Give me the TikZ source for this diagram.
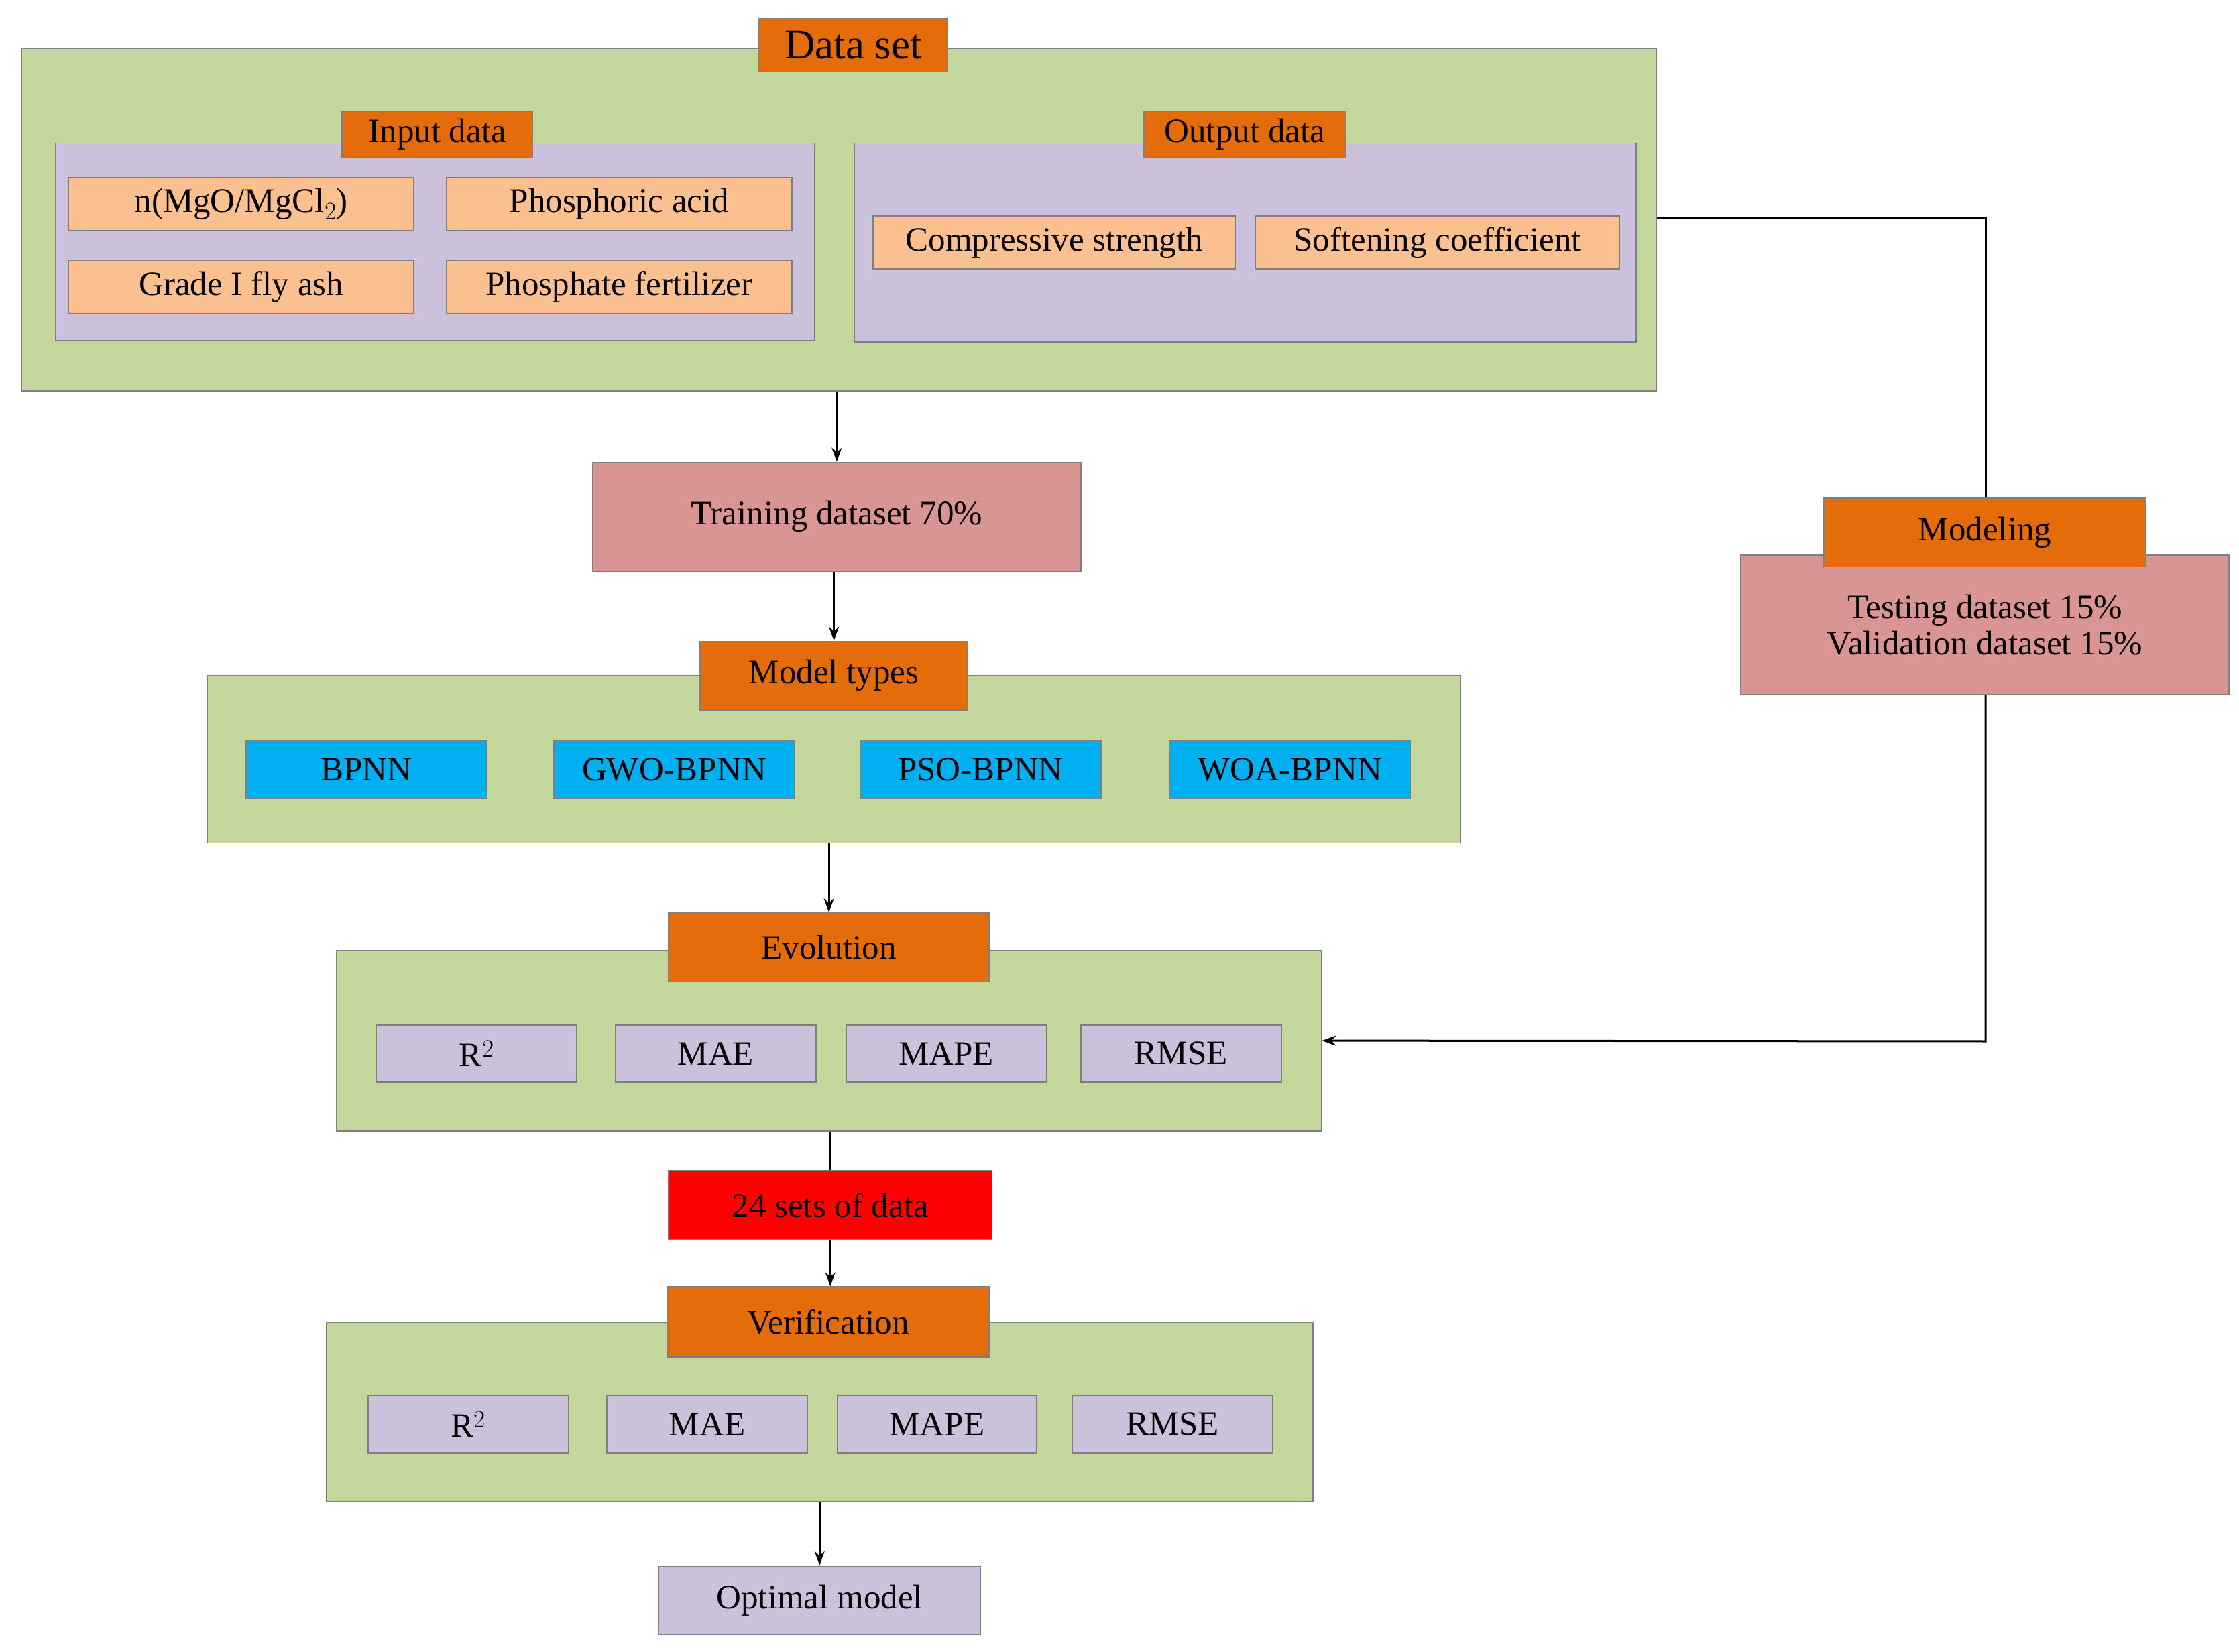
\documentclass[tikz,border=0pt]{standalone}
\usepackage{fontspec}
\setmainfont{Liberation Serif}
\usetikzlibrary{arrows.meta}
\definecolor{gr}{HTML}{C3D69B}
\definecolor{pu}{HTML}{CCC1DA}
\definecolor{og}{HTML}{E46C0A}
\definecolor{pe}{HTML}{FAC090}
\definecolor{pk}{HTML}{D99594}
\definecolor{bl}{HTML}{00B0F0}
\definecolor{bd}{HTML}{7F7F7F}
\newcommand\bx[7]{\node[#1, minimum width={(#5-#3)*0.05cm}, minimum height={(#6-#4)*0.05cm}, inner sep=0pt] (#2) at ({(#3+#5)/2},{(#4+#6)/2}) {#7};}
\tikzset{
 base/.style={draw=bd, line width=1.2pt, font=\fontsize{34}{40}\selectfont},
 grn/.style={base, fill=gr},
 pur/.style={base, fill=pu},
 ttl/.style={base, fill=og},
 pch/.style={base, fill=pe},
 pnk/.style={base, fill=pk},
 blu/.style={base, fill=bl},
 red/.style={base, fill=red},
 arr/.style={line width=2pt, -{Stealth[length=14pt,width=10pt]}},
 ln/.style={line width=2pt}
}
\begin{document}
\begin{tikzpicture}[x=0.05cm,y=-0.05cm]
\useasboundingbox (0,0) rectangle (1564,1154);
% Data set
\bx{grn}{ds}{15}{34}{1157}{273}{}
\bx{ttl,font=\fontsize{42}{48}\selectfont}{dst}{530}{13}{662}{50}{Data set}
\bx{pur}{inp}{39}{100}{569}{238}{}
\bx{ttl}{inpt}{239}{78}{372}{110}{Input data}
\bx{pch}{a1}{48}{124}{289}{161}{n(MgO/MgCl$_2$)}
\bx{pch}{a2}{312}{124}{553}{161}{Phosphoric acid}
\bx{pch}{a3}{48}{182}{289}{219}{Grade I fly ash}
\bx{pch}{a4}{312}{182}{553}{219}{Phosphate fertilizer}
\bx{pur}{outp}{597}{100}{1143}{239}{}
\bx{ttl}{outt}{799}{78}{940}{110}{Output data}
\bx{pch}{b1}{610}{151}{863}{188}{Compressive strength}
\bx{pch}{b2}{877}{151}{1131}{188}{Softening coefficient}
% training
\bx{pnk}{train}{414}{323}{755}{399}{Training dataset 70\%}
% model types
\bx{grn}{mt}{145}{472}{1020}{589}{}
\bx{ttl}{mtt}{489}{448}{676}{496}{Model types}
\bx{blu}{m1}{172}{517}{340}{558}{BPNN}
\bx{blu}{m2}{387}{517}{555}{558}{GWO-BPNN}
\bx{blu}{m3}{601}{517}{769}{558}{PSO-BPNN}
\bx{blu}{m4}{817}{517}{985}{558}{WOA-BPNN}
% evolution
\bx{grn}{ev}{235}{664}{923}{790}{}
\bx{ttl}{evt}{467}{638}{691}{686}{Evolution}
\bx{pur}{e1}{263}{716}{403}{756}{R$^{2}$}
\bx{pur}{e2}{430}{716}{570}{756}{MAE}
\bx{pur}{e3}{591}{716}{731}{756}{MAPE}
\bx{pur}{e4}{755}{716}{895}{756}{RMSE}
% 24 sets
\bx{red}{sets}{467}{818}{693}{866}{24 sets of data}
% verification
\bx{grn}{ve}{228}{924}{917}{1049}{}
\bx{ttl}{vet}{466}{899}{691}{948}{Verification}
\bx{pur}{v1}{257}{975}{397}{1015}{R$^{2}$}
\bx{pur}{v2}{424}{975}{564}{1015}{MAE}
\bx{pur}{v3}{585}{975}{724}{1015}{MAPE}
\bx{pur}{v4}{749}{975}{889}{1015}{RMSE}
\bx{pur}{opt}{460}{1094}{685}{1142}{Optimal model}
% modeling
\bx{pnk,align=center}{test}{1216}{388}{1557}{485}{\raisebox{-14pt}{\parbox{14cm}{\centering Testing dataset 15\%\\[-4pt]Validation dataset 15\%}}}
\bx{ttl}{mod}{1274}{348}{1499}{396}{Modeling}
\coordinate (c1) at (1387,152);
% connectors
\draw[arr] (ds.south -| train.north) -- (train.north);
\draw[arr] (train.south -| mtt.north) -- (mtt.north);
\draw[arr] (mt.south -| evt.north) -- (evt.north);
\draw[ln] (ev.south -| sets.north) -- (sets.north);
\draw[arr] (sets.south) -- (vet.north -| sets.south);
\draw[arr] (ve.south -| opt.north) -- (opt.north);
\draw[ln] (ds.east |- c1) -- (c1) -- (mod.north -| c1);
\draw[arr] (test.south -| c1) -- ++(0,242) -- (ev.east |- 0,727);
\end{tikzpicture}
\end{document}
